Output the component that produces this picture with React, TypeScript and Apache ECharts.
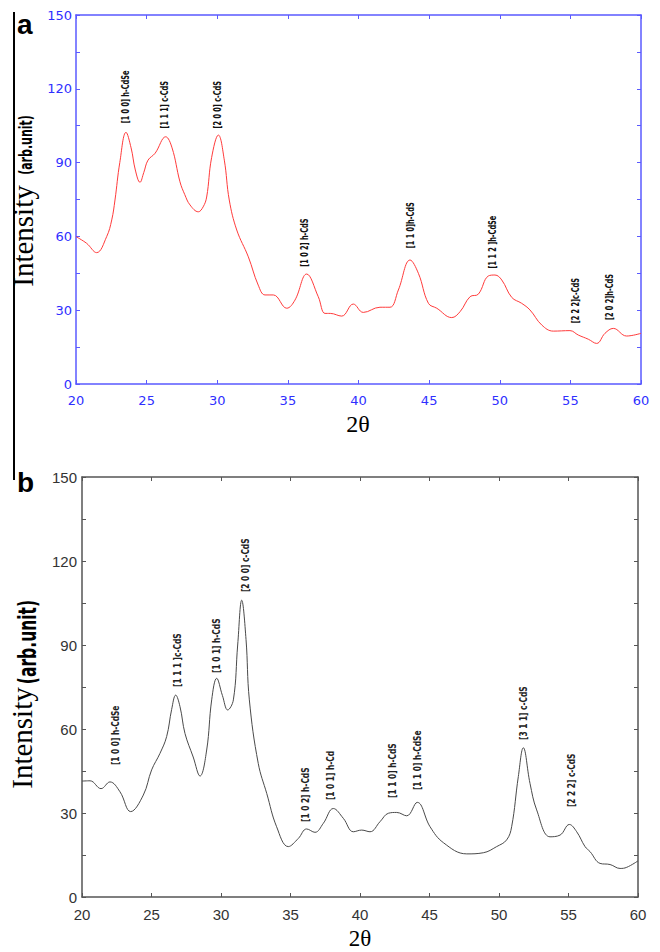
import React, { useEffect, useRef } from "react";
import * as echarts from "echarts";

// ---- Panel (a) data: 2θ vs intensity ----
const topSeries: [number, number][] = [
  [20.0, 59.9], [20.75, 57.2], [21.46, 53.4], [22.17, 59.9], [22.53, 66.7], [22.76, 74.8],
  [23.1, 90], [23.54, 102.3], [23.9, 96], [24.2, 87], [24.53, 82], [24.8, 86], [25.1, 91],
  [25.6, 93.8], [26.35, 100.5], [26.8, 96], [27.36, 82.2], [27.7, 77], [28.07, 72.8],
  [28.66, 70.0], [29.0, 72], [29.25, 76], [29.6, 92], [30.08, 101.2], [30.5, 91], [30.85, 74.8],
  [31.38, 62.6], [32.2, 51.7], [32.9, 40.2], [33.38, 36.2], [33.97, 36.2], [34.92, 30.8],
  [35.5, 34.1], [36.33, 44.7], [37.15, 35.5], [37.63, 28.7], [38.0, 28.7], [38.81, 27.6],
  [39.63, 32.5], [40.34, 29.1], [41.52, 31.2], [42.23, 31.2], [42.82, 38.2], [43.65, 50.4],
  [44.24, 45], [44.95, 32.8], [45.54, 30.8], [46.6, 27], [47.19, 29.4], [47.9, 35.5],
  [48.48, 36.5], [49.19, 43.9], [49.66, 44.3], [50.14, 42.3], [50.85, 35.2], [51.55, 32.8],
  [52.14, 30.1], [52.97, 24], [53.79, 21.5], [54.97, 21.7], [55.56, 19.9], [56.27, 18.2],
  [56.86, 16.5], [57.45, 20.6], [58.04, 22.6], [58.98, 19.5], [60.0, 20.6],
];

// annotation: [2θ, intensity at label start, text]
const topPeaks: [number, number, string][] = [
  [23.54, 106, "[1 0 0] h-CdSe"],
  [26.3, 103.9, "[1 1 1] c-CdS"],
  [30.0, 103.9, "[2 0 0] c-CdS"],
  [36.21, 47.7, "[1 0 2] h-CdS"],
  [43.7, 55.2, "[1 1 0]h-CdS"],
  [49.5, 47, "[1 1 2 ]h-CdSe"],
  [55.4, 24.7, "[2 2 2]c-CdS"],
  [57.8, 26, "[2 0 2]h-CdS"],
];

// ---- Panel (b) data ----
const bottomSeries: [number, number][] = [
  [20.0, 41.4], [20.58, 41.5], [21.37, 38.7], [22.01, 41.1], [22.73, 37.6], [23.5, 30.5],
  [24.41, 36.4], [25.01, 45.4], [25.61, 51.3], [26.09, 57.3], [26.45, 67], [26.74, 72.1],
  [27.05, 68], [27.41, 58.4], [28.0, 50], [28.49, 43.2], [28.97, 52.5], [29.33, 70.4],
  [29.69, 78.1], [30.1, 72], [30.48, 66.8], [30.89, 70.4], [31.2, 90], [31.49, 106],
  [31.8, 92], [32.04, 70.4], [32.68, 47.7], [33.29, 37], [34.0, 25.1], [34.84, 18.0],
  [35.56, 20.9], [36.16, 24.3], [36.76, 23.1], [37.36, 26.3], [38.08, 31.6], [38.8, 28.1],
  [39.52, 23.3], [40.12, 23.9], [40.72, 23.3], [41.44, 26.9], [42.04, 29.9], [42.64, 30.2],
  [43.36, 29], [44.12, 33.8], [45.04, 25.1], [46.0, 19.4], [47.68, 15.4], [48.87, 15.8],
  [49.83, 18], [50.55, 20.4], [50.91, 25.1], [51.39, 43], [51.75, 53.3], [52.23, 40.6],
  [52.71, 31.1], [53.67, 21.5], [54.39, 22.1], [55.06, 25.9], [55.59, 23.3], [56.19, 18],
  [56.55, 16.2], [57.27, 12], [57.99, 11.6], [58.71, 10.2], [59.19, 10.6], [60.0, 12.9],
];

const bottomPeaks: [number, number, string][] = [
  [22.37, 47.1, "[1 0 0] h-CdSe"],
  [26.81, 75, "[1 1 1 ]c-CdS"],
  [29.64, 80, "[1 0 1] h-CdS"],
  [31.73, 108.9, "[2 0 0] c-CdS"],
  [36.04, 26.8, "[1 0 2] h-CdS"],
  [37.84, 34.6, "[1 0 1] h-Cd"],
  [42.28, 35.4, "[1 1 0] h-CdS"],
  [44.1, 38.2, "[1 1 0] h-CdSe"],
  [51.73, 56.1, "[3 1 1] c-CdS"],
  [55.18, 32.1, "[2 2 2] c-CdS"],
];

const xMin = 20;
const xMax = 60;
const xStep = 5;
const yMin = 0;
const yMax = 150;
const yTickStep = 15;
const yLabelStep = 30;

const condFont = "'DejaVu Sans Condensed', 'Liberation Sans', sans-serif";

export default function App() {
  const ref = useRef<HTMLDivElement>(null);
  useEffect(() => {
    document.body.style.margin = "0";
    const el = ref.current!;
    const chart = echarts.init(el, null, { renderer: "svg", width: 660, height: 952 });

    const blueLine = "#5a5aff";
    const blueText = "#2f2fff";
    const greyLine = "#555";
    const greyText = "#333";

    const mkX = (grid: number, color: string, textColor: string, top: boolean, font: any) => ({
      type: "value",
      gridIndex: grid,
      position: top ? "top" : "bottom",
      min: xMin,
      max: xMax,
      interval: xStep,
      axisLine: { show: true, onZero: false, lineStyle: { color, width: 1.5 } },
      axisTick: { show: true, inside: true, length: 4, lineStyle: { color } },
      axisLabel: top
        ? { show: false }
        : { show: true, color: textColor, margin: 10, ...font },
      splitLine: { show: false },
    });
    const mkY = (grid: number, color: string, textColor: string, right: boolean, font: any, margin: number) => ({
      type: "value",
      gridIndex: grid,
      position: right ? "right" : "left",
      min: yMin,
      max: yMax,
      interval: yTickStep,
      axisLine: { show: true, onZero: false, lineStyle: { color, width: 1.5 } },
      axisTick: { show: true, inside: true, length: 4, lineStyle: { color } },
      axisLabel: right
        ? { show: false }
        : {
            show: true,
            color: textColor,
            margin,
            formatter: (v: number) => (v % yLabelStep === 0 ? String(v) : ""),
            ...font,
          },
      splitLine: { show: false },
    });

    const topFont = { fontFamily: "'DejaVu Sans', sans-serif", fontSize: 13 };
    const botFont = { fontFamily: "'Liberation Sans', Arial, sans-serif", fontSize: 15 };

    const annSeries = (
      xi: number,
      yi: number,
      peaks: [number, number, string][],
      color: string,
      fontSize: number,
      squeeze: number
    ) => ({
      type: "custom",
      coordinateSystem: "cartesian2d",
      xAxisIndex: xi,
      yAxisIndex: yi,
      silent: true,
      clip: false,
      data: peaks.map((p) => [p[0], p[1]]),
      renderItem: (params: any, api: any) => {
        const pt = api.coord([api.value(0), api.value(1)]);
        return {
          type: "text",
          x: pt[0],
          y: pt[1],
          rotation: Math.PI / 2,
          scaleX: squeeze,
          scaleY: 1,
          style: {
            text: peaks[params.dataIndex][2],
            fill: color,
            font: `bold ${fontSize}px ${condFont}`,
            align: "left",
            verticalAlign: "middle",
          },
        };
      },
    });

    chart.setOption({
      animation: false,
      backgroundColor: "#ffffff",
      grid: [
        { left: 76, top: 15, width: 565, height: 369 },
        { left: 82, top: 477, width: 556, height: 420 },
      ],
      xAxis: [
        mkX(0, blueLine, blueText, false, topFont),
        mkX(0, blueLine, blueText, true, topFont),
        mkX(1, greyLine, greyText, false, botFont),
        mkX(1, greyLine, greyText, true, botFont),
      ],
      yAxis: [
        mkY(0, blueLine, blueText, false, topFont, 4),
        mkY(0, blueLine, blueText, true, topFont, 4),
        mkY(1, greyLine, greyText, false, botFont, 5),
        mkY(1, greyLine, greyText, true, botFont, 5),
      ],
      series: [
        {
          type: "line",
          xAxisIndex: 0,
          yAxisIndex: 0,
          data: topSeries,
          smooth: 0.4,
          showSymbol: false,
          lineStyle: { color: "#ff3b3b", width: 1 },
          silent: true,
        },
        annSeries(0, 0, topPeaks, "#111", 10, 0.73),
        {
          type: "line",
          xAxisIndex: 2,
          yAxisIndex: 2,
          data: bottomSeries,
          smooth: 0.4,
          showSymbol: false,
          lineStyle: { color: "#4a4a4a", width: 1 },
          silent: true,
        },
        annSeries(2, 2, bottomPeaks, "#222", 11, 0.75),
      ],
      graphic: [
        { type: "line", shape: { x1: 14, y1: 12, x2: 14, y2: 480 }, style: { stroke: "#000", lineWidth: 2 } },
        {
          type: "text", x: 17, y: 10.5,
          style: { text: "a", fill: "#000", font: "bold 28px 'Liberation Sans', Arial, sans-serif", verticalAlign: "top" },
        },
        {
          type: "text", x: 17, y: 468,
          style: { text: "b", fill: "#000", font: "bold 28px 'Liberation Sans', Arial, sans-serif", verticalAlign: "top" },
        },
        // panel a titles
        {
          type: "text", x: 23, y: 236, rotation: Math.PI / 2,
          style: { text: "Intensity", fill: "#000", font: "29px 'Liberation Serif', 'Times New Roman', serif", align: "center", verticalAlign: "middle" },
        },
        {
          type: "text", x: 26, y: 145, rotation: Math.PI / 2, scaleX: 0.72,
          style: { text: "(arb.unit)", fill: "#000", font: `bold 17px ${condFont}`, align: "center", verticalAlign: "middle" },
        },
        {
          type: "text", x: 358, y: 424,
          style: { text: "2θ", fill: "#000", font: "24px 'Liberation Serif', 'Times New Roman', serif", align: "center", verticalAlign: "middle" },
        },
        // panel b titles
        {
          type: "text", x: 22, y: 738, rotation: Math.PI / 2,
          style: { text: "Intensity", fill: "#000", font: "29px 'Liberation Serif', 'Times New Roman', serif", align: "center", verticalAlign: "middle" },
        },
        {
          type: "text", x: 27.5, y: 642, rotation: Math.PI / 2, scaleX: 0.72,
          style: { text: "(arb.unit)", fill: "#000", font: `bold 24px ${condFont}`, align: "center", verticalAlign: "middle" },
        },
        {
          type: "text", x: 360, y: 938,
          style: { text: "2θ", fill: "#000", font: "23px 'Liberation Serif', 'Times New Roman', serif", align: "center", verticalAlign: "middle" },
        },
      ],
    });

    return () => {
      chart.dispose();
    };
  }, []);

  return <div ref={ref} style={{ width: 660, height: 952 }} />;
}
